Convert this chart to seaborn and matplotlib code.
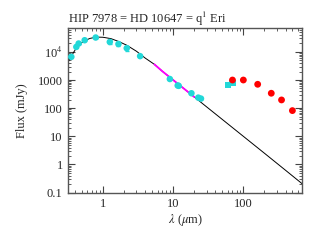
import numpy as np
import pandas as pd
import matplotlib
matplotlib.use("Agg")
import matplotlib.pyplot as plt
import matplotlib.ticker as mticker
import seaborn as sns

# photosphere model
model_wl = [0.32, 0.35, 0.38, 0.42, 0.47, 0.55, 0.65, 0.8, 1.0, 1.3, 1.7, 2.2, 3.0,
            4.0, 5.4, 7.0, 10, 15, 20, 30, 50, 100, 200, 400, 700]
model_flux = [4500, 6500, 9500, 14000, 19000, 25000, 30000, 33500, 33000, 29500, 23000,
              17000, 10500, 6000, 3600, 2050, 1000, 445, 250, 111, 40, 10, 2.5, 0.62, 0.2]

# IRS spectrum segment
irs_wl = [5.4, 7.0, 10, 15, 20]
irs_flux = [3600, 2050, 1000, 445, 250]

# photometry
phot_wl = [0.354, 0.417, 0.45, 0.548, 0.787, 1.25, 1.66, 2.18, 3.38,
           8.97, 11.6, 12.0, 18.2, 22.8, 24.9]
phot_flux = [6650, 15000, 19800, 25900, 32300, 22500, 19000, 13500, 7050,
             1085, 640, 620, 339, 237, 219]
phot_err = [0, 0, 0, 0, 0, 3500, 3000, 2500, 0, 0, 0, 0, 0, 0, 0]

sq_wl = [60, 70]
sq_flux = [683, 764]

fir_wl = [70, 100, 160, 250, 350, 500]
fir_flux = [1000, 1000, 705, 339, 196, 82]

sns.set_style("ticks")
plt.rcParams["font.family"] = ["Liberation Serif", "DejaVu Serif"]
plt.rcParams["mathtext.fontset"] = "stix"

fig = plt.figure(figsize=(3.19, 2.42), dpi=100)
ax = fig.add_axes([0.214, 0.204, 0.732, 0.68])

cyan = "#22d8d8"
sns.lineplot(x=model_wl, y=model_flux, ax=ax, color="black", lw=0.7, sort=False)
sns.lineplot(x=irs_wl, y=irs_flux, ax=ax, color="#ff00ff", lw=1.3, sort=False)
ax.errorbar(phot_wl, phot_flux, yerr=phot_err, fmt="none", ecolor=cyan, elinewidth=1, capsize=1.5)
sns.scatterplot(x=phot_wl, y=phot_flux, ax=ax, color=cyan, s=22, edgecolor="none", zorder=3)
sns.scatterplot(x=sq_wl, y=sq_flux, ax=ax, color=cyan, marker="s", s=20, edgecolor="none", zorder=3)
sns.scatterplot(x=fir_wl, y=fir_flux, ax=ax, color="red", s=24, edgecolor="none", zorder=3)

ax.set_xscale("log")
ax.set_yscale("log")
ax.set_xlim(0.32, 680)
ax.set_ylim(0.1, 70000)

ylabels = {0.1: "0.1", 1: "1", 10: "10", 100: "100", 1000: "1000", 10000: r"10$^4$"}
ax.yaxis.set_major_locator(mticker.FixedLocator(list(ylabels)))
ax.yaxis.set_major_formatter(mticker.FuncFormatter(lambda v, p: ylabels.get(round(v, 1) if v < 1 else round(v), "")))
ax.yaxis.set_minor_locator(mticker.LogLocator(base=10, subs=np.arange(2, 10)))
ax.yaxis.set_minor_formatter(mticker.NullFormatter())
ax.xaxis.set_major_locator(mticker.FixedLocator([1, 10, 100]))
ax.xaxis.set_major_formatter(mticker.FixedFormatter(["1", "10", "100"]))
ax.xaxis.set_minor_locator(mticker.LogLocator(base=10, subs=np.arange(2, 10)))
ax.xaxis.set_minor_formatter(mticker.NullFormatter())

ax.tick_params(which="both", direction="in", top=True, right=True, labelsize=9, color="#444444")
ax.tick_params(which="major", length=5, width=0.8, pad=4)
ax.tick_params(which="minor", length=2.5, width=0.6)
for s in ax.spines.values():
    s.set_color("#555555")
    s.set_linewidth(1)

ax.set_xlabel(r"$\lambda$ ($\mu$m)", fontsize=9, labelpad=1)
ax.set_ylabel("Flux (mJy)", fontsize=9, labelpad=7)
ax.set_title(r"HIP 7978 = HD 10647 = q$^1$ Eri", fontsize=9, loc="left", pad=0.5)

fig.savefig("out.png", dpi=100)
